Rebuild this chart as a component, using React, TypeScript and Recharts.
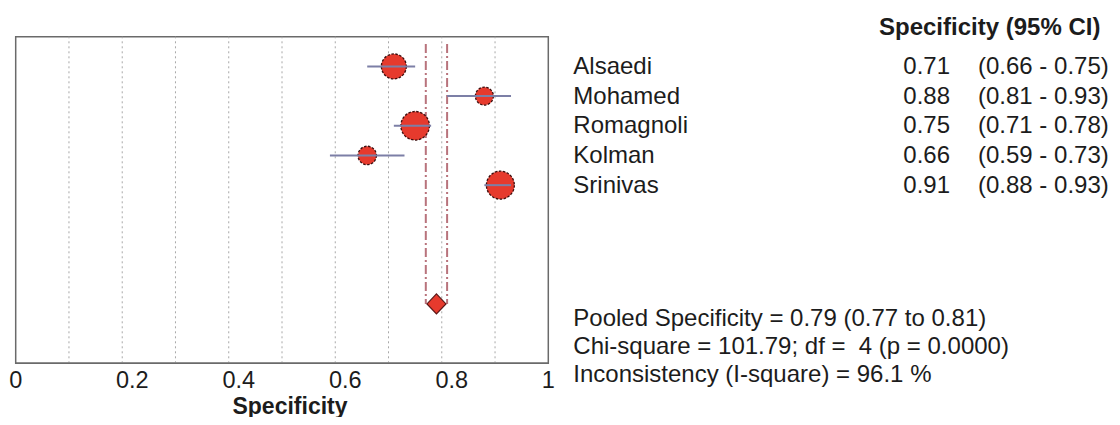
import React from 'react';
import { ComposedChart, Scatter, XAxis, YAxis, ZAxis, ReferenceLine, ReferenceArea } from 'recharts';

// study rows
const studies = ['Alsaedi', 'Mohamed', 'Romagnoli', 'Kolman', 'Srinivas'];
const specificity = [0.71, 0.88, 0.75, 0.66, 0.91];
const ciLow = [0.66, 0.81, 0.71, 0.59, 0.88];
const ciHigh = [0.75, 0.93, 0.78, 0.73, 0.93];
const weights = [21.6, 11.2, 28.3, 11.8, 27.1]; // marker area ~ study weight
const rows = [1, 2, 3, 4, 5];

const pooledValue = 0.79;
const pooledLow = 0.77;
const pooledHigh = 0.81;
const pooledRow = 9;

const xTicks = [0, 0.2, 0.4, 0.6, 0.8, 1];
const gridValues = [0.1, 0.2, 0.3, 0.4, 0.5, 0.6, 0.7, 0.8, 0.9];

const statsLines = [
  'Pooled Specificity = 0.79 (0.77 to 0.81)',
  'Chi-square = 101.79; df =  4 (p = 0.0000)',
  'Inconsistency (I-square) = 96.1 %',
];

const FONT = '"Liberation Sans", Arial, sans-serif';
const RED = '#e63a2d';

const studyData = studies.map((name, i) => ({ name, x: specificity[i], y: rows[i], w: weights[i] }));
const ciData = studies.map((name, i) => [
  { name, x: ciLow[i], y: rows[i] },
  { name, x: ciHigh[i], y: rows[i] },
]);
const pooledData = [{ name: 'Pooled', x: pooledValue, y: pooledRow }];

const StudyMarker = (props: any) => {
  const { cx, cy, width } = props;
  return (
    <circle
      cx={cx}
      cy={cy}
      r={width / 2}
      fill={RED}
      stroke="#3a0e0e"
      strokeWidth={1.3}
      strokeDasharray="2.5 1.5"
    />
  );
};

const NoMarker = () => <g />;

const PooledDiamond = (props: any) => {
  const { cx, cy } = props;
  const pts = `${cx},${cy - 10} ${cx + 9.5},${cy} ${cx},${cy + 10} ${cx - 9.5},${cy}`;
  return <polygon points={pts} fill={RED} stroke="#5a1616" strokeWidth={1.2} />;
};

const AxisTick = (props: any) => {
  const { x, y, payload } = props;
  const v = payload.value;
  const shift = v > 0 && v < 1 ? 10 : 0;
  return (
    <text x={x + shift} y={y} dy={17} textAnchor="middle" fontSize={23.5} fill="#1c1c1c" fontFamily={FONT}>
      {String(v)}
    </text>
  );
};

const textStyle: React.CSSProperties = {
  position: 'absolute',
  fontFamily: FONT,
  fontSize: 24,
  color: '#1c1c1c',
  whiteSpace: 'pre',
};

export default function App() {
  return (
    <div style={{ position: 'relative', width: 1104, height: 409, background: '#fff' }}>
      <ComposedChart
        width={1104}
        height={409}
        data={studyData}
        margin={{ top: 28.7, right: 563.7, left: 7.7, bottom: 13.7 }}
      >
        <XAxis
          type="number"
          dataKey="x"
          domain={[0, 1]}
          ticks={xTicks}
          tick={<AxisTick />}
          tickLine={false}
          axisLine={{ stroke: '#6a6a6a', strokeWidth: 1.5 }}
          height={40}
          interval={0}
        />
        <YAxis type="number" dataKey="y" domain={[0, 11]} reversed hide width={0} />
        <ZAxis type="number" dataKey="w" domain={[0, 28.3]} range={[0, 642]} />

        <ReferenceArea x1={0} x2={1} y1={0} y2={11} fill="none" stroke="#6a6a6a" strokeWidth={1.5} />

        {gridValues.map((g) => (
          <ReferenceLine key={g} x={g} stroke="#a8a8a8" strokeDasharray="2 3" strokeWidth={1} />
        ))}

        {[pooledLow, pooledHigh].map((p) => (
          <ReferenceLine
            key={p}
            segment={[{ x: p, y: 0.25 }, { x: p, y: pooledRow }]}
            stroke="#b8737c"
            strokeWidth={2}
            strokeDasharray="9 3 2 3"
          />
        ))}

        <Scatter data={studyData} dataKey="x" shape={<StudyMarker />} isAnimationActive={false} />

        {ciData.map((seg, i) => (
          <Scatter
            key={studies[i]}
            data={seg}
            dataKey="x"
            shape={<NoMarker />}
            line={{ stroke: '#7c7fa6', strokeWidth: 2 }}
            isAnimationActive={false}
          />
        ))}

        <Scatter data={pooledData} dataKey="x" shape={<PooledDiamond />} isAnimationActive={false} />
      </ComposedChart>

      <div style={{ ...textStyle, left: 871, top: 3.8, lineHeight: '29.7px', fontWeight: 'bold' }}>
        Specificity (95% CI)
      </div>
      <div style={{ ...textStyle, left: 565.3, top: 42.8, lineHeight: '29.7px' }}>
        {studies.map((s) => (
          <div key={s}>{s}</div>
        ))}
      </div>
      <div style={{ ...textStyle, right: 162, top: 42.8, lineHeight: '29.7px', textAlign: 'right' }}>
        {specificity.map((v, i) => (
          <div key={i}>{v.toFixed(2)}</div>
        ))}
      </div>
      <div style={{ ...textStyle, left: 970, top: 42.8, lineHeight: '29.7px' }}>
        {ciLow.map((lo, i) => (
          <div key={i}>{`(${lo.toFixed(2)} - ${ciHigh[i].toFixed(2)})`}</div>
        ))}
      </div>
      <div style={{ ...textStyle, left: 565.3, top: 296.4, lineHeight: '28px' }}>
        {statsLines.map((l) => (
          <div key={l}>{l}</div>
        ))}
      </div>
      <div
        style={{
          ...textStyle,
          left: 182,
          width: 200,
          top: 385,
          lineHeight: '26px',
          fontSize: 23,
          fontWeight: 'bold',
          textAlign: 'center',
        }}
      >
        Specificity
      </div>
    </div>
  );
}
